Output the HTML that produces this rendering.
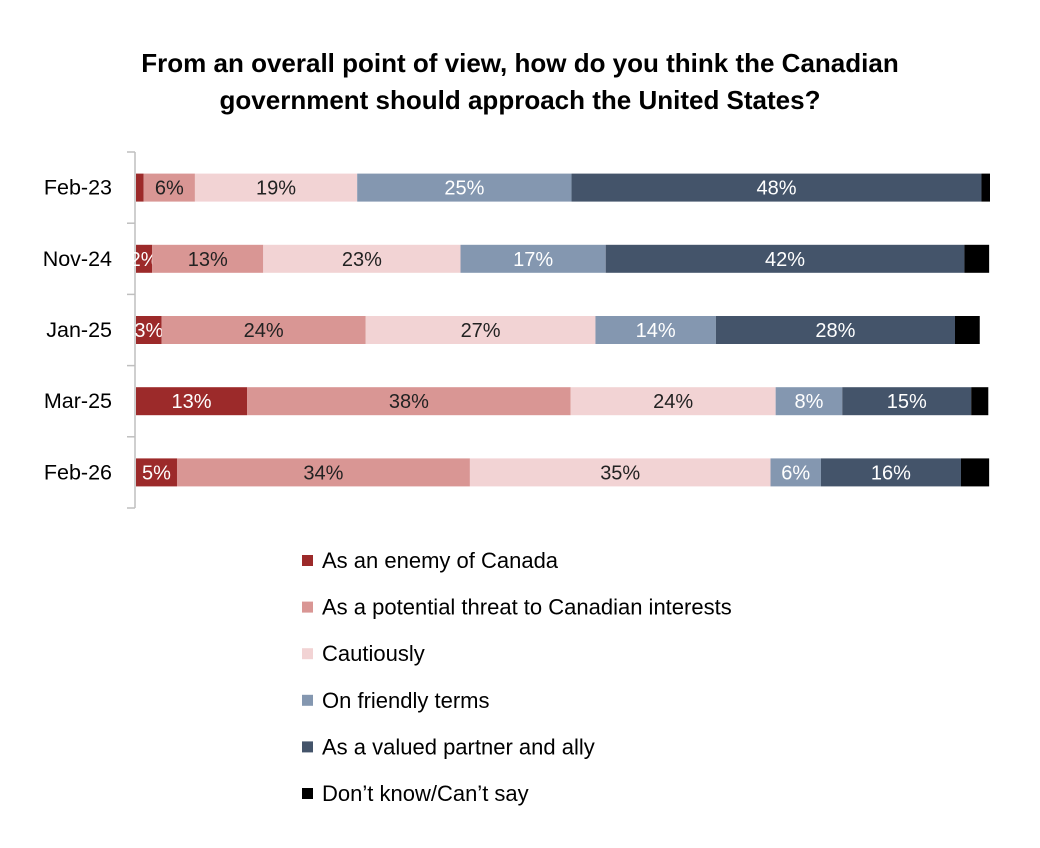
<!DOCTYPE html>
<html><head><meta charset="utf-8"><style>
body{margin:0;background:#fff;font-family:"Liberation Sans",sans-serif;}
svg text{font-family:"Liberation Sans",sans-serif;}
</style></head><body>
<svg width="1040" height="843" viewBox="0 0 1040 843">
<text x="520" y="72" text-anchor="middle" font-size="26" font-weight="bold" fill="#000">From an overall point of view, how do you think the Canadian</text>
<text x="520" y="109" text-anchor="middle" font-size="26" font-weight="bold" fill="#000">government should approach the United States?</text>
<g id="plot"></g>
<g id="legend"></g>
</svg>
<script>
const categories=["Feb-23","Nov-24","Jan-25","Mar-25","Feb-26"];
const seriesNames=["As an enemy of Canada","As a potential threat to Canadian interests","Cautiously","On friendly terms","As a valued partner and ally","Don’t know/Can’t say"];
const enemy=[0.9,1.9,3.0,13.0,4.8];
const threat=[6.0,13.0,23.9,37.9,34.3];
const cautious=[19.0,23.1,26.9,24.0,35.2];
const friendly=[25.1,17.0,14.1,7.8,5.9];
const partner=[48.0,42.0,28.0,15.1,16.4];
const dontKnow=[1.0,2.9,2.9,2.0,3.3];
const labelsShown=[[false,true,true,true,true],[true,true,true,true,true],[true,true,true,true,true],[true,true,true,true,true],[true,true,true,true,true],[false,false,false,false,false]];
const series=[enemy,threat,cautious,friendly,partner,dontKnow];
const colors=["#9c2a2a","#d99694","#f2d3d4","#8497b0","#44546a","#000000"];
const textColors=["#fff","#222","#222","#fff","#fff","#fff"];
const NS="http://www.w3.org/2000/svg";
const plot=document.getElementById('plot');
const x0=136,pxPer=8.54,plotTop=152,band=71.2,barH=28;
function xs(v){return x0+v*pxPer;}
function yc(i){return plotTop+band*(i+0.5);}
function mk(t,a,p){const e=document.createElementNS(NS,t);for(const k in a)e.setAttribute(k,a[k]);(p||plot).appendChild(e);return e;}
let ax=mk('line',{x1:135,y1:plotTop,x2:135,y2:plotTop+band*5,stroke:'#bfbfbf','stroke-width':1.5});


for(let i=0;i<=5;i++){let t=mk('line',{x1:127,y1:plotTop+band*i,x2:135,y2:plotTop+band*i,stroke:'#bfbfbf','stroke-width':1.5});

}
categories.forEach((c,i)=>{
 let l=mk('text',{x:112,y:yc(i)+7,'text-anchor':'end','font-size':21.5,fill:'#000'});l.textContent=c;
 
 
 let cum=0;
 series.forEach((s,k)=>{
  const v=s[i];
  let r=mk('rect',{x:xs(cum),y:yc(i)-barH/2,width:v*pxPer,height:barH,fill:colors[k]});
  
  
  if(labelsShown[k][i]){
   let t=mk('text',{x:xs(cum+v/2),y:yc(i)+7,'text-anchor':'middle','font-size':20,fill:textColors[k]});
   t.textContent=Math.round(v)+'%';
   
   
  }
  cum+=v;
 });
});
const lg=document.getElementById('legend');
seriesNames.forEach((n,k)=>{
 const y=561+k*46.6;
 let r=mk('rect',{x:302,y:y-6,width:11,height:11,fill:colors[k]},lg);
 
 
 let t=mk('text',{x:322,y:y+7,'font-size':22,fill:'#000'},lg);t.textContent=n;
 
 
});
</script>
</body></html>
